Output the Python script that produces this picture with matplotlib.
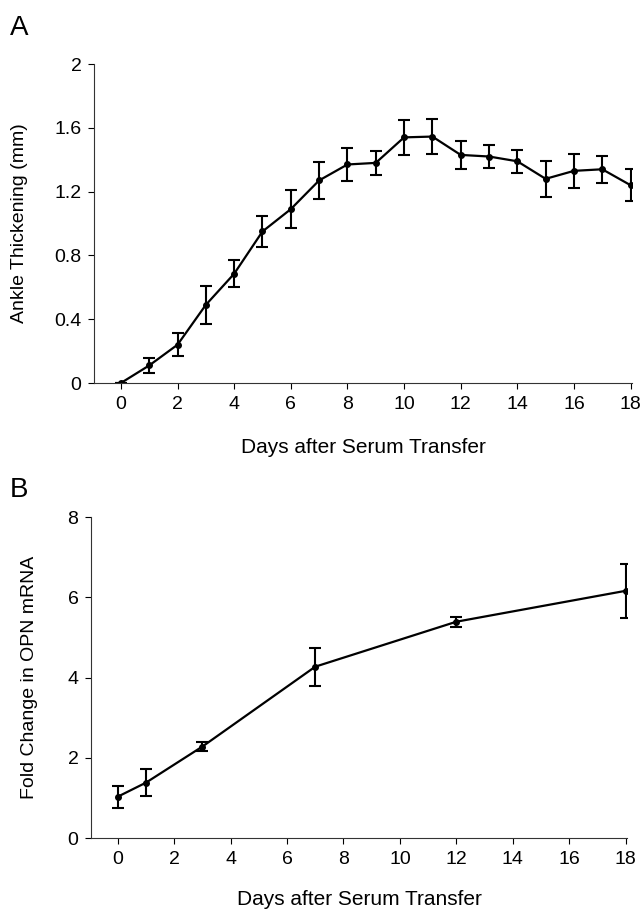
#!/usr/bin/env python3
# Ankle thickening and OPN mRNA after serum transfer
import matplotlib
matplotlib.use("Agg")
import matplotlib.pyplot as plt

plt.rcParams['font.family'] = ['Liberation Sans', 'DejaVu Sans']

# panel A
days_a = [0, 1, 2, 3, 4, 5, 6, 7, 8, 9, 10, 11, 12, 13, 14, 15, 16, 17, 18]
ankle = [0.0, 0.11, 0.24, 0.49, 0.685, 0.95, 1.09, 1.27, 1.37, 1.38, 1.54, 1.545,
         1.43, 1.42, 1.39, 1.28, 1.33, 1.34, 1.24]
ankle_err = [0.0, 0.045, 0.073, 0.117, 0.086, 0.096, 0.118, 0.116, 0.102, 0.077,
             0.111, 0.109, 0.088, 0.075, 0.071, 0.113, 0.107, 0.084, 0.100]

# panel B
days_b = [0, 1, 3, 7, 12, 18]
opn = [1.03, 1.38, 2.28, 4.27, 5.39, 6.16]
opn_err = [0.27, 0.33, 0.11, 0.47, 0.12, 0.68]

W, H = 643, 913
fig = plt.figure(figsize=(W/100, H/100), dpi=100)

def box(l, r, t, b):
    return [l/W, 1 - b/H, (r - l)/W, (b - t)/H]

def style(ax, l, r, t, b, xlab_y, ylab_x):
    for s in ['top', 'right']:
        ax.spines[s].set_visible(False)
    for s in ['left', 'bottom']:
        ax.spines[s].set_linewidth(0.8)
        ax.spines[s].set_color('#333333')
    ax.tick_params(direction='out', length=4, width=0.8, labelsize=14, pad=5)
    ax.set_xticks(range(0, 19, 2))
    ax.set_xlabel("Days after Serum Transfer", fontsize=15, va='center')
    ax.xaxis.set_label_coords(0.5, (b - xlab_y)/(b - t))
    ax.yaxis.label.set_va('center')
    ax.yaxis.set_label_coords((ylab_x - l)/(r - l), 0.5)

axA = fig.add_axes(box(94, 632, 64, 383))
axA.errorbar(days_a, ankle, yerr=ankle_err, color='black', lw=1.6, marker='o',
             ms=4, capsize=4, elinewidth=1.5, capthick=1.5)
axA.set_xlim(-0.95, 18.05)
axA.set_ylim(0, 2)
axA.set_yticks([0, 0.4, 0.8, 1.2, 1.6, 2])
axA.set_yticklabels(["0", "0.4", "0.8", "1.2", "1.6", "2"])
axA.set_ylabel("Ankle Thickening (mm)", fontsize=14)
style(axA, 94, 632, 64, 383, 447, 20)

axB = fig.add_axes(box(91, 627, 517, 838))
axB.errorbar(days_b, opn, yerr=opn_err, color='black', lw=1.6, marker='o',
             ms=4, capsize=4, elinewidth=1.5, capthick=1.5)
axB.set_xlim(-0.95, 18.05)
axB.set_ylim(0, 8)
axB.set_yticks([0, 2, 4, 6, 8])
axB.set_ylabel("Fold Change in OPN mRNA", fontsize=14)
style(axB, 91, 627, 517, 838, 899, 30)

fig.text(10/W, 1 - 28/H, "A", fontsize=20, va='center', ha='left')
fig.text(10/W, 1 - 490/H, "B", fontsize=20, va='center', ha='left')

plt.savefig("out.png", dpi=100)
